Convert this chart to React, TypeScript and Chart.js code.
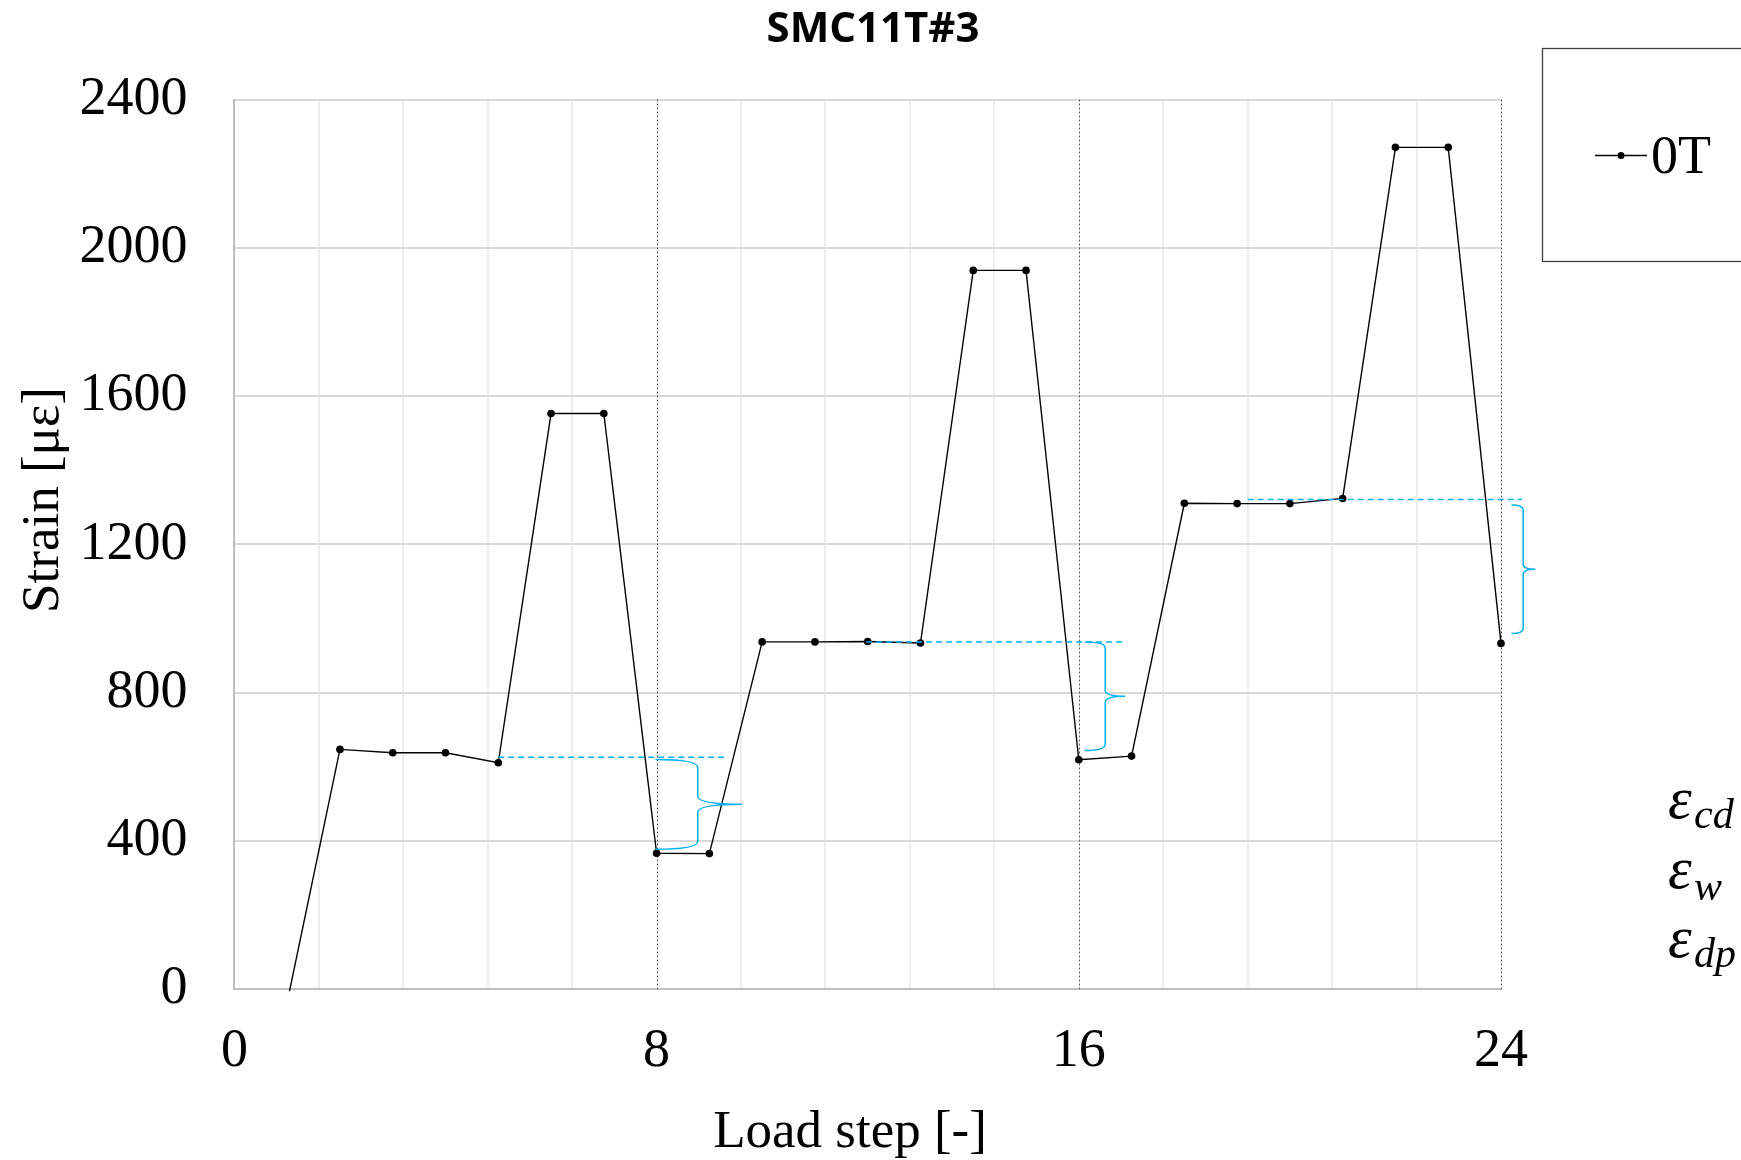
import { useEffect, useRef } from "react";
import { Chart, registerables } from "chart.js";

Chart.register(...registerables);

// ---- data ----
const chartTitle = "SMC11T#3";
const seriesLabel = "0T";
const xAxisTitle = "Load step [-]";
const yAxisTitle = "Strain [με]";

const loadSteps = [1, 2, 3, 4, 5, 6, 7, 8, 9, 10, 11, 12, 13, 14, 15, 16, 17, 18, 19, 20, 21, 22, 23, 24];
const strainValues = [-35, 647, 638, 638, 611, 1553, 1553, 367, 366, 937, 937, 938, 934, 1939, 1939, 619, 629, 1311, 1310, 1310, 1324, 2271, 2271, 933];

// x axis: minor gridlines every 1.6 steps, labelled majors every 8 steps
const xTickValues = [0, 1.6, 3.2, 4.8, 6.4, 8, 9.6, 11.2, 12.8, 14.4, 16, 17.6, 19.2, 20.8, 22.4, 24];
const xMajorTicks = [0, 8, 16, 24];
const yMin = 0;
const yMax = 2400;
const yStep = 400;

// dashed reference levels (strain) and their extents (load step)
const refLevels = [626, 937, 1321];
const refStart = [5, 11.97, 19.2];
const refEnd = [9.28, 16.85, 24.4];

// curly braces marking the strain drops
const braceTop = [620, 937, 1306];
const braceBottom = [378, 644, 960];
const braceLeft = [7.98, 16.11, 24.2];
const braceSpine = [8.78, 16.5, 24.42];
const braceTip = [9.62, 16.88, 24.65];
const braceRadius = [8, 6, 5];

// strain component symbols
const symbolBase = ["ε", "ε", "ε"];
const symbolSub = ["cd", "w", "dp"];

const SERIF = "'Liberation Serif', 'Times New Roman', serif";
const ACCENT = "#00B0F0";

const overlayPlugin = {
  id: "overlay",
  beforeDatasetsDraw(chart: any) {
    const { ctx, chartArea, scales } = chart;
    const x = scales.x;
    ctx.save();
    ctx.strokeStyle = "#595959";
    ctx.lineWidth = 1;
    ctx.setLineDash([2, 2]);
    for (const v of xMajorTicks) {
      if (v === 0) continue;
      const px = Math.round(x.getPixelForValue(v)) + 0.5;
      ctx.beginPath();
      ctx.moveTo(px, chartArea.top);
      ctx.lineTo(px, chartArea.bottom);
      ctx.stroke();
    }
    ctx.restore();
  },
  afterDatasetsDraw(chart: any) {
    const { ctx, scales } = chart;
    const x = scales.x;
    const y = scales.y;
    ctx.save();
    // dashed reference levels
    ctx.strokeStyle = ACCENT;
    ctx.lineWidth = 1.5;
    ctx.setLineDash([6, 4]);
    refLevels.forEach((lvl, i) => {
      const py = y.getPixelForValue(lvl);
      ctx.beginPath();
      ctx.moveTo(x.getPixelForValue(refStart[i]), py);
      ctx.lineTo(x.getPixelForValue(refEnd[i]), py);
      ctx.stroke();
    });
    // braces
    ctx.setLineDash([]);
    braceTop.forEach((top, i) => {
      const t = y.getPixelForValue(top);
      const b = y.getPixelForValue(braceBottom[i]);
      const m = (t + b) / 2;
      const l = x.getPixelForValue(braceLeft[i]);
      const s = x.getPixelForValue(braceSpine[i]);
      const tip = x.getPixelForValue(braceTip[i]);
      const r = braceRadius[i];
      ctx.beginPath();
      ctx.moveTo(l, t);
      ctx.quadraticCurveTo(s, t, s, t + r);
      ctx.lineTo(s, m - r);
      ctx.quadraticCurveTo(s, m, tip, m);
      ctx.moveTo(tip, m);
      ctx.quadraticCurveTo(s, m, s, m + r);
      ctx.lineTo(s, b - r);
      ctx.quadraticCurveTo(s, b, l, b);
      ctx.stroke();
    });
    ctx.restore();
  },
  afterDraw(chart: any) {
    const { ctx } = chart;
    const ds = chart.data.datasets[0];
    ctx.save();
    ctx.fillStyle = "#000";
    // title
    ctx.font = "bold 42px 'Open Sans', sans-serif";
    ctx.textAlign = "center";
    ctx.textBaseline = "alphabetic";
    ctx.fillText(chartTitle, 873, 42);

    // axis titles
    ctx.font = `53px ${SERIF}`;
    ctx.fillText(xAxisTitle, 850, 1147);
    ctx.save();
    ctx.translate(58, 500);
    ctx.rotate(-Math.PI / 2);
    ctx.fillText(yAxisTitle, 0, 0);
    ctx.restore();

    // legend box
    ctx.strokeStyle = "#404040";
    ctx.lineWidth = 1.3;
    ctx.strokeRect(1542.5, 48.5, 400, 213);
    ctx.strokeStyle = ds.borderColor;
    ctx.lineWidth = 1.5;
    ctx.beginPath();
    ctx.moveTo(1595, 155.5);
    ctx.lineTo(1647, 155.5);
    ctx.stroke();
    ctx.beginPath();
    ctx.arc(1621, 155.5, 3.5, 0, Math.PI * 2);
    ctx.fillStyle = ds.pointBackgroundColor;
    ctx.fill();
    ctx.fillStyle = "#000";
    ctx.textAlign = "left";
    ctx.font = `54px ${SERIF}`;
    ctx.fillText(ds.label, 1651, 173);

    // strain component symbols
    const baseY = [818, 888, 957];
    const subY = [828, 900, 967];
    symbolBase.forEach((b, i) => {
      ctx.font = `italic 60px ${SERIF}`;
      ctx.fillText(b, 1668, baseY[i]);
      ctx.font = `italic 42px ${SERIF}`;
      ctx.fillText(symbolSub[i], 1694, subY[i]);
    });
    ctx.restore();
  },
};

export default function App() {
  const canvasRef = useRef<HTMLCanvasElement | null>(null);

  useEffect(() => {
    document.body.style.margin = "0";
    const canvas = canvasRef.current;
    if (!canvas) return;
    const chart = new Chart(canvas, {
      type: "line",
      data: {
        datasets: [
          {
            label: seriesLabel,
            data: loadSteps.map((s, i) => ({ x: s, y: strainValues[i] })),
            borderColor: "#000000",
            borderWidth: 1.4,
            pointRadius: 3.8,
            pointBackgroundColor: "#000000",
            pointBorderWidth: 0,
            pointHoverRadius: 3.8,
            tension: 0,
            clip: { left: 6, top: 6, right: 6, bottom: 2 } as any,
          },
        ],
      },
      options: {
        responsive: false,
        animation: false,
        events: [],
        layout: { padding: { top: 99.5, right: 240, left: 0, bottom: 0 } },
        plugins: {
          legend: { display: false },
          title: { display: false },
          tooltip: { enabled: false },
        },
        scales: {
          x: {
            type: "linear",
            min: 0,
            max: 24,
            afterBuildTicks: (scale: any) => {
              scale.ticks = xTickValues.map((v) => ({ value: v }));
            },
            afterFit: (scale: any) => {
              scale.height = 170.7;
            },
            ticks: {
              autoSkip: false,
              maxRotation: 0,
              padding: 30,
              color: "#000",
              font: { family: SERIF, size: 54 },
              callback: (v: any) => (xMajorTicks.includes(v) ? String(v) : ""),
            },
            grid: {
              drawTicks: false,
              lineWidth: 2,
              color: (c: any) =>
                c.tick && xMajorTicks.includes(c.tick.value) ? "rgba(0,0,0,0)" : "#eeeeee",
            },
            border: { color: "#bfbfbf", width: 2 },
          },
          y: {
            min: yMin,
            max: yMax,
            afterFit: (scale: any) => {
              scale.width = 234.4;
            },
            ticks: {
              stepSize: yStep,
              padding: 47,
              color: "#000",
              font: { family: SERIF, size: 54 },
              callback: (v: any) => String(v),
            },
            grid: { drawTicks: false, lineWidth: 2, color: "#d9d9d9" },
            border: { color: "#bfbfbf", width: 2 },
          },
        },
      },
      plugins: [overlayPlugin],
    });
    return () => chart.destroy();
  }, []);

  return (
    <div style={{ position: "absolute", left: 0, top: 0, width: 1741, height: 1160, background: "#fff" }}>
      <canvas ref={canvasRef} width={1741} height={1160} style={{ display: "block" }} />
    </div>
  );
}
